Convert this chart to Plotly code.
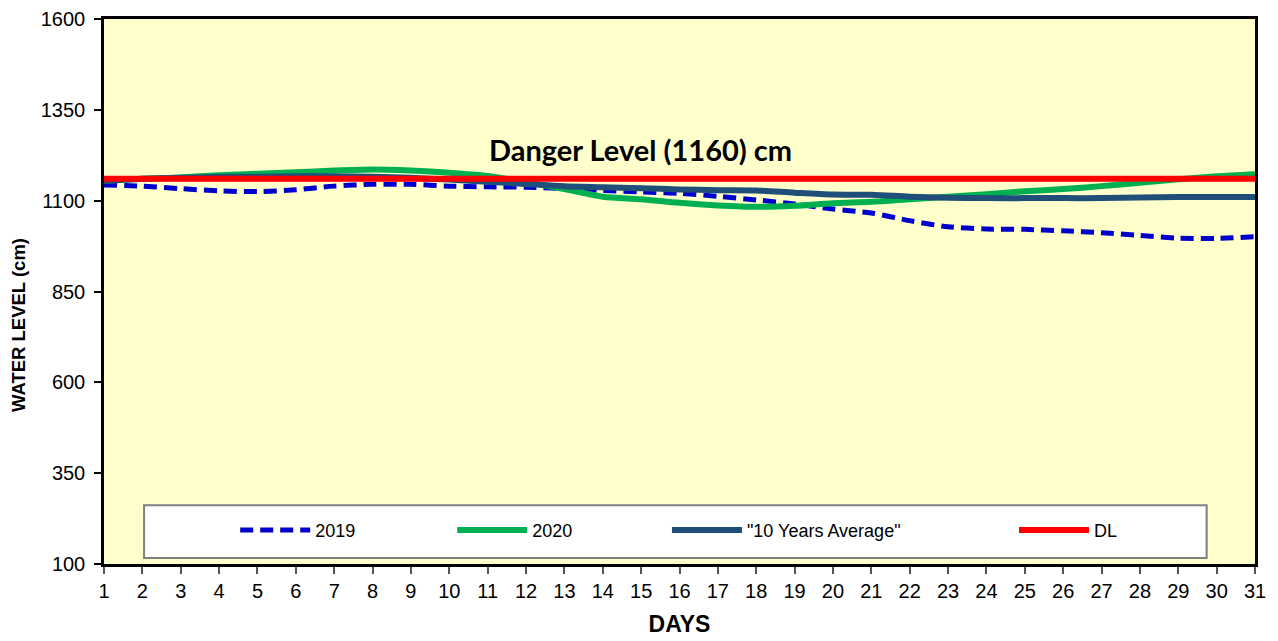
import plotly.graph_objects as go

days = list(range(1, 32))
y2019 = [1143, 1140, 1133, 1127, 1125, 1130, 1140, 1145, 1145, 1140, 1138,
         1137, 1133, 1128, 1124, 1120, 1112, 1102, 1091, 1077, 1066, 1045,
         1028, 1022, 1021, 1017, 1012, 1004, 997, 996, 1001]
y2020 = [1155, 1160, 1164, 1170, 1174, 1178, 1183, 1186, 1183, 1177, 1168,
         1151, 1132, 1111, 1104, 1094, 1087, 1083, 1086, 1093, 1097, 1104,
         1111, 1118, 1126, 1132, 1140, 1149, 1159, 1167, 1173]
yavg = [1154, 1160, 1163, 1165, 1166, 1167, 1167, 1166, 1163, 1158, 1152,
        1146, 1140, 1137, 1134, 1131, 1129, 1128, 1122, 1117, 1116, 1111,
        1108, 1107, 1107, 1107, 1107, 1109, 1110, 1110, 1110]
ydl = [1160] * 31

y_ticks = [100, 350, 600, 850, 1100, 1350, 1600]
names = ["2019", "2020", '"10 Years Average"', "DL"]

FONT = "Liberation Sans, Arial, sans-serif"

fig = go.Figure()
fig.add_trace(go.Scatter(x=days, y=y2019, name=names[0], mode="lines", legend="legend",
                         line=dict(color="#0000CC", width=5, dash="13px,7px",
                                   shape="spline", smoothing=0.8)))
fig.add_trace(go.Scatter(x=days, y=y2020, name=names[1], mode="lines", legend="legend",
                         line=dict(color="#00B050", width=6, shape="spline", smoothing=0.8)))
fig.add_trace(go.Scatter(x=days, y=yavg, name=names[2], mode="lines", legend="legend2",
                         line=dict(color="#1F4E79", width=6, shape="spline", smoothing=0.8)))
fig.add_trace(go.Scatter(x=days, y=ydl, name=names[3], mode="lines", legend="legend3",
                         line=dict(color="#FF0000", width=6)))

legend_common = dict(orientation="h", xanchor="left", y=0.062, yanchor="middle",
                     bgcolor="rgba(0,0,0,0)", itemwidth=70, font=dict(family=FONT, size=18))

fig.update_layout(
    width=1270, height=633,
    margin=dict(l=96, r=23, t=11, b=77, autoexpand=False),
    paper_bgcolor="white",
    plot_bgcolor="#FFFFCC",
    font=dict(family=FONT, size=20, color="black"),
    showlegend=True,
    legend=dict(x=0.114, entrywidth=132, entrywidthmode="pixels", **legend_common),
    legend2=dict(x=0.4891, **legend_common),
    legend3=dict(x=0.7906, **legend_common),
    shapes=[dict(type="rect", xref="paper", yref="paper",
                 x0=0.0348, x1=0.958, y0=0.011, y1=0.108,
                 fillcolor="white", line=dict(color="#808080", width=2), layer="below")],
    annotations=[
        dict(text="<b>Danger Level (1160) cm</b>",
             x=1 + (640 - 104) / (1151 / 30), y=1240,
             xref="x", yref="y", showarrow=False,
             font=dict(family="Lato, Noto Sans, sans-serif", size=29, color="black")),
        dict(text="<b>WATER LEVEL (cm)</b>", textangle=-90,
             x=-0.0747, y=0.4385, xref="paper", yref="paper",
             xanchor="center", yanchor="middle", showarrow=False,
             font=dict(family=FONT, size=18.5, color="black")),
    ],
)
fig.update_xaxes(range=[1, 31], tickmode="array", tickvals=days,
                 ticktext=[str(d) for d in days], automargin=False,
                 showgrid=False, zeroline=False,
                 showline=True, linecolor="black", linewidth=2.5, mirror=True,
                 ticks="outside", ticklen=7, tickcolor="#555555", tickwidth=1.5,
                 title=dict(text="<b>DAYS</b>", font=dict(size=23), standoff=16))
fig.update_yaxes(range=[100, 1600], tickmode="array", tickvals=y_ticks, automargin=False,
                 showgrid=False, zeroline=False,
                 showline=True, linecolor="black", linewidth=2.5, mirror=True,
                 ticks="outside", ticklen=7, tickcolor="black", tickwidth=2,
                 ticklabelstandoff=5)

fig.write_html("out.html")
